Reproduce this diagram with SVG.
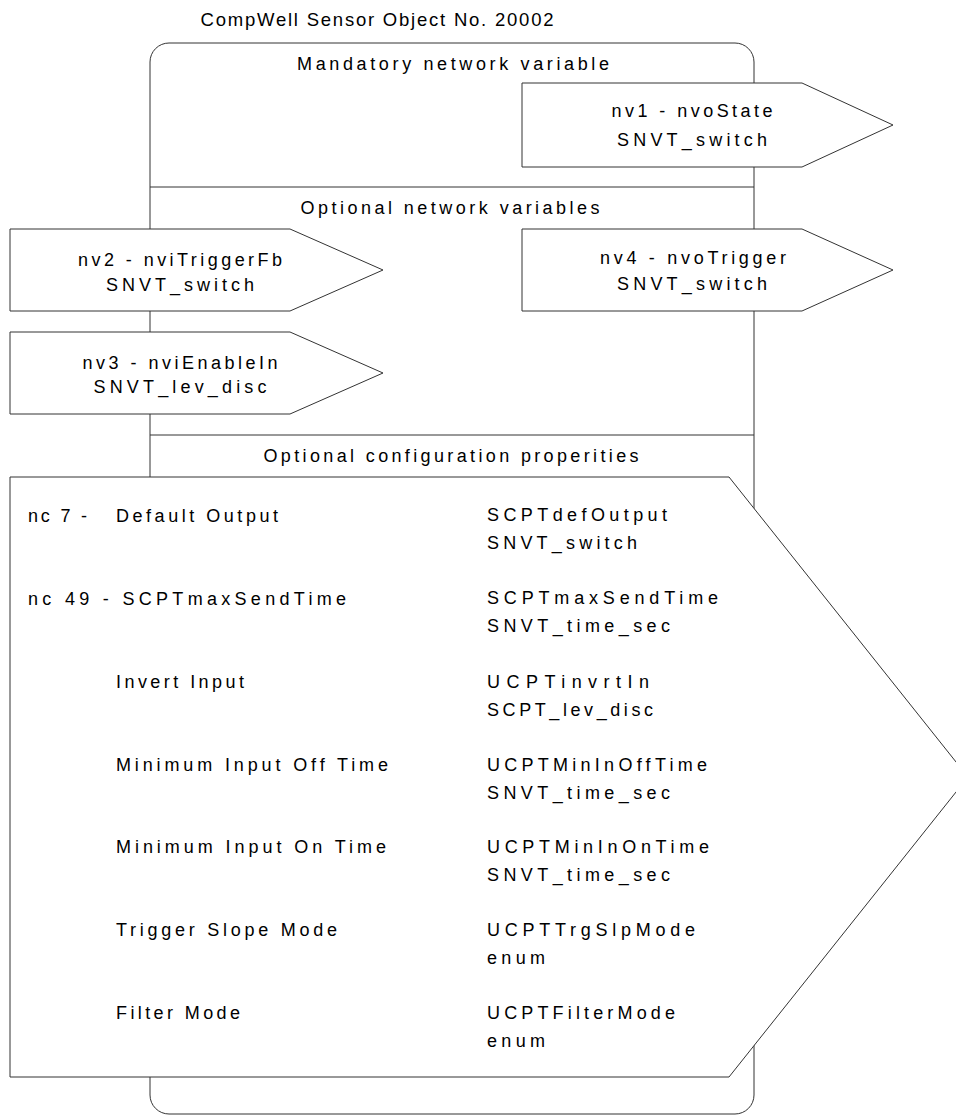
<svg xmlns="http://www.w3.org/2000/svg" width="956" height="1117" viewBox="0 0 956 1117">
<style>
  .shape { fill: #ffffff; stroke: #333333; stroke-width: 1; }
  .line { fill: none; stroke: #333333; stroke-width: 1; }
  text { font-family: "Liberation Sans", Arial, sans-serif; font-size: 18px; fill: #000000; }
  .title { font-size: 18.5px; }
  .c { text-anchor: middle; }
</style>
<rect width="956" height="1117" fill="#ffffff"/>
<g id="title">
  <text class="title c" x="377" y="26" textLength="353" lengthAdjust="spacing">CompWell Sensor Object No. 20002</text>
</g>
<g id="object-box">
  <rect class="shape" x="150" y="43" width="604" height="1071" rx="19" ry="19"/>
  <text class="c" x="453" y="70" textLength="312" lengthAdjust="spacing">Mandatory network variable</text>
</g>
<g id="connectors">
  <line class="line" x1="150" y1="187" x2="754" y2="187"/>
  <line class="line" x1="150" y1="435" x2="754" y2="435"/>
</g>
<g id="section-optional-nv">
  <text class="c" x="450" y="214" textLength="299" lengthAdjust="spacing">Optional network variables</text>
</g>
<g id="section-optional-cp">
  <text class="c" x="451" y="462" textLength="375" lengthAdjust="spacing">Optional configuration properities</text>
</g>
<g id="nv1">
  <polygon class="shape" points="522,83 802,83 893,125 802,167 522,167"/>
  <text class="c" x="692" y="117" textLength="161" lengthAdjust="spacing">nv1 - nvoState</text>
  <text class="c" x="692" y="146" textLength="150" lengthAdjust="spacing">SNVT_switch</text>
</g>
<g id="nv2">
  <polygon class="shape" points="10,229 290,229 383,270 290,311 10,311"/>
  <text class="c" x="180" y="266" textLength="204" lengthAdjust="spacing">nv2 - nviTriggerFb</text>
  <text class="c" x="180" y="291" textLength="148" lengthAdjust="spacing">SNVT_switch</text>
</g>
<g id="nv4">
  <polygon class="shape" points="522,229 802,229 893,270 802,311 522,311"/>
  <text class="c" x="693" y="264" textLength="186" lengthAdjust="spacing">nv4 - nvoTrigger</text>
  <text class="c" x="692" y="290" textLength="150" lengthAdjust="spacing">SNVT_switch</text>
</g>
<g id="nv3">
  <polygon class="shape" points="10,332 290,332 383,373 290,414 10,414"/>
  <text class="c" x="180" y="369" textLength="195" lengthAdjust="spacing">nv3 - nviEnableIn</text>
  <text class="c" x="180" y="393" textLength="173" lengthAdjust="spacing">SNVT_lev_disc</text>
</g>
<g id="config-properties">
  <polygon class="shape" points="10,477 729,477 968,777 729,1077 10,1077"/>
  <text x="28" y="522" textLength="59" lengthAdjust="spacing">nc 7 -</text>
  <text x="116" y="522" textLength="162" lengthAdjust="spacing">Default Output</text>
  <text x="487" y="521" textLength="180" lengthAdjust="spacing">SCPTdefOutput</text>
  <text x="487" y="549" textLength="150" lengthAdjust="spacing">SNVT_switch</text>

  <text x="28" y="605" textLength="318" lengthAdjust="spacing">nc 49 - SCPTmaxSendTime</text>
  <text x="487" y="604" textLength="231" lengthAdjust="spacing">SCPTmaxSendTime</text>
  <text x="487" y="632" textLength="183" lengthAdjust="spacing">SNVT_time_sec</text>

  <text x="116" y="688" textLength="128" lengthAdjust="spacing">Invert Input</text>
  <text x="487" y="688" textLength="162" lengthAdjust="spacing">UCPTinvrtIn</text>
  <text x="487" y="716" textLength="166" lengthAdjust="spacing">SCPT_lev_disc</text>

  <text x="116" y="771" textLength="272" lengthAdjust="spacing">Minimum Input Off Time</text>
  <text x="487" y="771" textLength="220" lengthAdjust="spacing">UCPTMinInOffTime</text>
  <text x="487" y="799" textLength="183" lengthAdjust="spacing">SNVT_time_sec</text>

  <text x="116" y="853" textLength="270" lengthAdjust="spacing">Minimum Input On Time</text>
  <text x="487" y="853" textLength="222" lengthAdjust="spacing">UCPTMinInOnTime</text>
  <text x="487" y="881" textLength="183" lengthAdjust="spacing">SNVT_time_sec</text>

  <text x="116" y="936" textLength="221" lengthAdjust="spacing">Trigger Slope Mode</text>
  <text x="487" y="936" textLength="208" lengthAdjust="spacing">UCPTTrgSlpMode</text>
  <text x="487" y="964" textLength="58" lengthAdjust="spacing">enum</text>

  <text x="116" y="1019" textLength="124" lengthAdjust="spacing">Filter Mode</text>
  <text x="487" y="1019" textLength="188" lengthAdjust="spacing">UCPTFilterMode</text>
  <text x="487" y="1047" textLength="58" lengthAdjust="spacing">enum</text>
</g>
</svg>
